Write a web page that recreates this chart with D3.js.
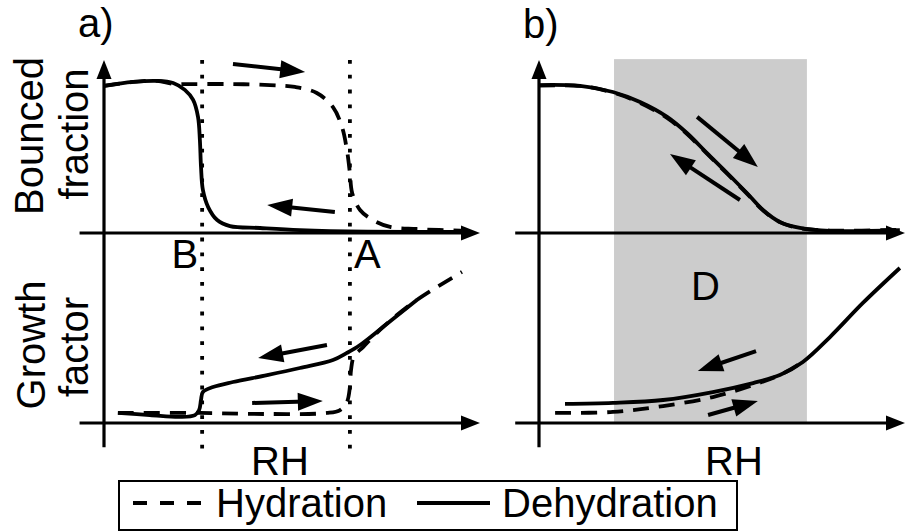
<!DOCTYPE html>
<meta charset="utf-8">
<style>
    body { margin: 0; background: #fff; }
    svg text { font-family: "Liberation Sans", Arial, sans-serif; font-size: 40px; fill: #000; }
    .curve { fill: none; stroke: #000; stroke-width: 3.8px; stroke-linejoin: round; }
    .hyd { stroke-dasharray: 16 10; }
    .guide { stroke: #000; stroke-width: 3.8px; stroke-dasharray: 3.8 11; }
</style>
<svg width="905" height="531"></svg>
<script src="https://d3js.org/d3.v7.min.js"></script>
<script>
    // [RH, value] pairs (RH 0..100, value 0..1)
    var aTopHyd = [[0, .85], [7.7, .873], [14.1, .879], [18.4, .862], [22.9, .861], [33.5, .861], [44.1, .855],
        [50.8, .844], [56.6, .809], [60.9, .728], [63.3, .613], [64.6, .48], [65.4, .347], [66.0, .231],
        [68.1, .133], [71.5, .075], [76.1, .035], [83.2, .023], [96.5, .012]];
    var aTopDehyd = [[0, .85], [7.7, .873], [14.1, .879], [18.4, .867], [21.5, .827], [23.7, .769], [25.0, .671],
        [25.5, .538], [25.8, .382], [26.3, .249], [27.7, .15], [30.1, .075], [33.5, .04], [41.5, .029],
        [52.1, .017], [70, .008], [94.7, .006]];
    var aBotHyd = [[3.7, .058], [25.5, .058], [43.4, .052], [59.3, .058], [62.8, .075], [64.6, .121], [65.4, .208],
        [65.7, .306], [66.5, .387], [68.9, .439], [74.2, .555], [83.2, .711], [95.2, .873]];
    var aBotDehyd = [[3.7, .058], [12.2, .046], [20.2, .035], [24.2, .046], [25.3, .075], [25.8, .133], [26.3, .179],
        [29.0, .208], [34.3, .237], [43.4, .277], [52.1, .318], [60.9, .364], [64.6, .405], [68.1, .451],
        [74.2, .555], [83.2, .711]];
    var bTopHyd = [[0, .852], [11.2, .85], [20.2, .812], [27.6, .752], [35.0, .665], [40.4, .573], [45.9, .458],
        [51.4, .343], [56.8, .228], [61.2, .131], [65.8, .063], [71.3, .027], [79.5, .014], [98.6, .019]];
    var bTopDehyd = [[0, .855], [11.2, .85], [20.2, .815], [27.6, .757], [35.0, .671], [40.4, .578], [45.9, .462],
        [51.4, .347], [56.8, .231], [61.2, .133], [65.8, .064], [71.3, .029], [79.5, .012], [98.6, .017]];
    var bBotHyd = [[4.4, .058], [20.2, .064], [33.9, .098], [47.5, .15], [58.5, .22], [65.8, .277], [72.1, .353]];
    var bBotDehyd = [[7.1, .11], [20.2, .116], [33.9, .133], [47.5, .179], [58.5, .231], [65.8, .277], [72.1, .353],
        [79.5, .497], [88.5, .694], [98.6, .896]];

    var guideNames = ["B", "A"];
    var guideRH = [26.1, 65.4];
    var zoneD = [20.5, 73.2];

    // direction arrows: [RH1, v1, RH2, v2]
    var aTopArrows = [[34.3, .977, 53.5, .931], [61.4, .121, 43.4, .162]];
    var aBotArrows = [[59.3, .451, 41.0, .376], [39.4, .116, 58.2, .127]];
    var bTopArrows = [[43.2, .671, 59.8, .382], [54.9, .191, 35.8, .457]];
    var bBotArrows = [[59.3, .416, 43.4, .301], [46.2, .046, 59.8, .127]];

    var svg = d3.select("svg");

    var xA = d3.scaleLinear().domain([0, 100]).range([104, 480]);
    var xB = d3.scaleLinear().domain([0, 100]).range([539, 905]);
    var yTop = d3.scaleLinear().domain([0, 1]).range([233, 60]);
    var yBot = d3.scaleLinear().domain([0, 1]).range([423, 250]);

    function arrow(g, x1, y1, x2, y2, len, wid, sw) {
        var dx = x2 - x1, dy = y2 - y1, L = Math.sqrt(dx * dx + dy * dy);
        var ux = dx / L, uy = dy / L;
        var bx = x2 - ux * len, by = y2 - uy * len;
        g.append("line")
            .attr("x1", x1).attr("y1", y1)
            .attr("x2", x2 - ux * len * 0.7).attr("y2", y2 - uy * len * 0.7)
            .attr("stroke", "#000").attr("stroke-width", sw);
        g.append("path")
            .attr("d", "M" + x2 + "," + y2 + "L" + (bx - uy * wid / 2) + "," + (by + ux * wid / 2)
                + "L" + (bx + uy * wid / 2) + "," + (by - ux * wid / 2) + "Z")
            .attr("fill", "#000");
    }

    // shaded zone D
    svg.append("rect")
        .attr("x", xB(zoneD[0])).attr("y", yTop(1.005))
        .attr("width", xB(zoneD[1]) - xB(zoneD[0]))
        .attr("height", yBot(0) - yTop(1.005))
        .attr("fill", "#cccccc");

    // axes
    [xA, xB].forEach(function (x) {
        var g = svg.append("g");
        arrow(g, x(0), yBot(-0.14), x(0), yTop(1), 19, 15, 3.2);
        arrow(g, x(-6.5), yTop(0), x(100), yTop(0), 19, 15, 3.2);
        arrow(g, x(-6.5), yBot(0), x(100), yBot(0), 19, 15, 3.2);
    });

    // dotted guides in panel a
    svg.selectAll(".guide")
        .data(guideRH)
        .enter().append("line")
        .attr("class", "guide")
        .attr("x1", function (d) { return xA(d); })
        .attr("x2", function (d) { return xA(d); })
        .attr("y1", yTop(1)).attr("y2", yBot(-0.16));

    function curve(x, y, data, cls) {
        var line = d3.line()
            .x(function (d) { return x(d[0]); })
            .y(function (d) { return y(d[1]); })
            .curve(d3.curveCatmullRom.alpha(0.5));
        svg.append("path").attr("class", "curve " + cls).attr("d", line(data));
    }

    curve(xA, yTop, aTopHyd, "hyd");
    curve(xA, yTop, aTopDehyd, "dehyd");
    curve(xA, yBot, aBotHyd, "hyd");
    curve(xA, yBot, aBotDehyd, "dehyd");
    curve(xB, yTop, bTopHyd, "hyd");
    curve(xB, yTop, bTopDehyd, "dehyd");
    curve(xB, yBot, bBotHyd, "hyd");
    curve(xB, yBot, bBotDehyd, "dehyd");

    function arrows(x, y, list) {
        var g = svg.append("g");
        list.forEach(function (a) {
            arrow(g, x(a[0]), y(a[1]), x(a[2]), y(a[3]), 25, 18, 4);
        });
    }
    arrows(xA, yTop, aTopArrows);
    arrows(xA, yBot, aBotArrows);
    arrows(xB, yTop, bTopArrows);
    arrows(xB, yBot, bBotArrows);

    // labels
    svg.append("text").attr("x", 78).attr("y", 37).text("a)");
    svg.append("text").attr("x", 523).attr("y", 38).text("b)");

    svg.append("text").attr("x", xA(guideRH[0]) - 4).attr("y", 268)
        .attr("text-anchor", "end").text(guideNames[0]);
    svg.append("text").attr("x", xA(guideRH[1]) + 4).attr("y", 268)
        .attr("text-anchor", "start").text(guideNames[1]);

    svg.append("text").attr("x", xB((zoneD[0] + zoneD[1]) / 2) - 5).attr("y", 300)
        .attr("text-anchor", "middle").text("D");

    svg.append("text").attr("x", 280).attr("y", 475).attr("text-anchor", "middle").text("RH");
    svg.append("text").attr("x", 734).attr("y", 475).attr("text-anchor", "middle").text("RH");

    [["Bounced", 43, 136], ["fraction", 88, 134], ["Growth", 45, 345], ["factor", 88, 347]].forEach(function (l) {
        svg.append("text")
            .attr("transform", "translate(" + l[1] + "," + l[2] + ") rotate(-90)")
            .attr("text-anchor", "middle")
            .text(l[0]);
    });

    // legend
    var leg = svg.append("g");
    leg.append("rect")
        .attr("x", 119).attr("y", 481).attr("width", 618).attr("height", 49)
        .attr("fill", "none").attr("stroke", "#000").attr("stroke-width", 2);
    leg.append("line").attr("class", "curve hyd")
        .attr("x1", 133).attr("x2", 206).attr("y1", 503).attr("y2", 503)
        .style("stroke-dasharray", "14 13");
    leg.append("text").attr("x", 216).attr("y", 517).text("Hydration");
    leg.append("line").attr("class", "curve")
        .attr("x1", 417).attr("x2", 490).attr("y1", 503).attr("y2", 503);
    leg.append("text").attr("x", 502).attr("y", 517).text("Dehydration");
</script>
